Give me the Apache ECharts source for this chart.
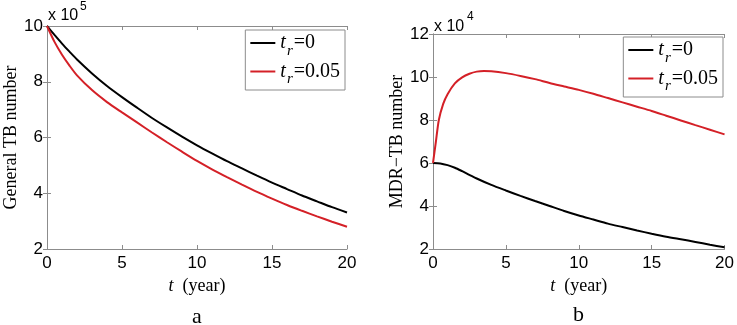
<!DOCTYPE html>
<html>
<head>
<meta charset="utf-8">
<script src="https://cdn.jsdelivr.net/npm/echarts@6/dist/echarts.min.js"></script>
<style>
  html, body { margin: 0; padding: 0; background: #fff; }
  #main { width: 737px; height: 325px; }
</style>
</head>
<body>
<div id="main"></div>
<script>
// 时间 (year)
var genT = [0, 0.5, 1, 1.5, 2, 3, 4, 5, 6, 7, 8, 9, 10, 11, 12, 13, 14, 15, 16, 17, 18, 19, 20];
// General TB number (x 10^5)
var genTr0 = [10, 9.68, 9.37, 9.08, 8.8, 8.3, 7.85, 7.45, 7.07, 6.7, 6.36, 6.03, 5.72, 5.43, 5.15, 4.89, 4.63, 4.38, 4.15, 3.92, 3.71, 3.5, 3.31];
var genTr005 = [10, 9.43, 8.97, 8.58, 8.23, 7.7, 7.27, 6.9, 6.54, 6.18, 5.83, 5.49, 5.16, 4.86, 4.58, 4.31, 4.05, 3.81, 3.58, 3.37, 3.17, 2.98, 2.8];

var mdrT0 = [0, 0.5, 1, 1.5, 2, 2.5, 3, 4, 5, 6, 7, 8, 9, 10, 11, 12, 13, 14, 15, 16, 17, 18, 19, 20];
// MDR-TB number (x 10^4)
var mdrTr0 = [6.0, 5.98, 5.9, 5.78, 5.62, 5.45, 5.28, 4.98, 4.72, 4.47, 4.23, 4.0, 3.77, 3.56, 3.37, 3.18, 3.02, 2.86, 2.71, 2.57, 2.45, 2.33, 2.2, 2.08];
var mdrT1 = [0, 0.2, 0.4, 0.7, 1, 1.5, 2, 2.5, 3, 3.5, 4, 5, 6, 7, 8, 9, 10, 11, 12, 13, 14, 15, 16, 17, 18, 19, 20];
var mdrTr005 = [6.0, 7.0, 8.0, 8.75, 9.2, 9.7, 9.98, 10.15, 10.25, 10.28, 10.27, 10.18, 10.05, 9.9, 9.72, 9.56, 9.4, 9.22, 9.02, 8.82, 8.62, 8.42, 8.2, 7.98, 7.76, 7.55, 7.33];

function pairs(xs, ys) {
    return xs.map(function (x, i) { return [x, ys[i]]; });
}

var boxColor = '#8c8c8c';
var sans = 'Liberation Sans';
var serif = 'Liberation Serif';

function xAxes(gridIndex) {
    return [{
        gridIndex: gridIndex,
        type: 'value',
        min: 0, max: 20, interval: 5,
        name: '{i|t}  (year)',
        nameLocation: 'middle',
        nameGap: 23,
        nameTextStyle: {
            fontFamily: serif, fontSize: 18, color: '#000',
            rich: { i: { fontFamily: serif, fontStyle: 'italic', fontSize: 18, color: '#000' } }
        },
        axisLine: { show: true, lineStyle: { color: boxColor, width: 1 } },
        axisTick: { show: true, inside: true, length: 4, lineStyle: { color: boxColor } },
        axisLabel: { fontFamily: sans, fontSize: 17, color: '#000', margin: 6 },
        splitLine: { show: false }
    }, {
        gridIndex: gridIndex,
        type: 'value',
        position: 'top',
        min: 0, max: 20, interval: 5,
        axisLine: { show: true, lineStyle: { color: boxColor, width: 1 } },
        axisTick: { show: true, inside: true, length: 4, lineStyle: { color: boxColor } },
        axisLabel: { show: false },
        splitLine: { show: false }
    }];
}

function yAxes(gridIndex, max, name) {
    return [{
        gridIndex: gridIndex,
        type: 'value',
        min: 2, max: max, interval: 2,
        name: name,
        nameLocation: 'middle',
        nameRotate: 90,
        nameGap: 22,
        nameTextStyle: { fontFamily: serif, fontSize: 18, color: '#000' },
        axisLine: { show: true, lineStyle: { color: boxColor, width: 1 } },
        axisTick: { show: true, inside: true, length: 4, lineStyle: { color: boxColor } },
        axisLabel: { fontFamily: sans, fontSize: 17, color: '#000', margin: 4 },
        splitLine: { show: false }
    }, {
        gridIndex: gridIndex,
        type: 'value',
        position: 'right',
        min: 2, max: max, interval: 2,
        axisLine: { show: true, lineStyle: { color: boxColor, width: 1 } },
        axisTick: { show: true, inside: true, length: 4, lineStyle: { color: boxColor } },
        axisLabel: { show: false },
        splitLine: { show: false }
    }];
}

var legendRich = {
    t: { fontFamily: serif, fontStyle: 'italic', fontSize: 20, color: '#000' },
    r: { fontFamily: serif, fontStyle: 'italic', fontSize: 15, color: '#000', padding: [16, 1, 0, 1] },
    v: { fontFamily: serif, fontSize: 20, color: '#000' }
};

function legendFmt(name) {
    return name === 'tr0' ? '{t|t}{r|r}{v|=0}' : '{t|t}{r|r}{v|=0.05}';
}

function legend(right, top) {
    return {
        orient: 'vertical',
        right: right,
        top: top,
        data: ['tr0', 'tr005'],
        icon: 'rect',
        itemWidth: 25,
        itemHeight: 2,
        itemGap: 3,
        padding: [3, 5, 3, 5],
        backgroundColor: '#fff',
        borderColor: boxColor,
        borderWidth: 1,
        borderRadius: 0,
        formatter: legendFmt,
        textStyle: { rich: legendRich }
    };
}

function lineSeries(name, xAxisIndex, yAxisIndex, data, color) {
    return {
        type: 'line',
        name: name,
        xAxisIndex: xAxisIndex,
        yAxisIndex: yAxisIndex,
        data: data,
        smooth: 0.25,
        showSymbol: false,
        symbol: 'none',
        animation: false,
        lineStyle: { color: color, width: 2 },
        itemStyle: { color: color }
    };
}

var chart = echarts.init(document.getElementById('main'));
var option = {
    backgroundColor: '#fff',
    animation: false,
    grid: [
        { left: 47, right: 390, top: 26, bottom: 76, containLabel: false },
        { left: 433, right: 12, top: 34, bottom: 76, containLabel: false }
    ],
    xAxis: xAxes(0).concat(xAxes(1)),
    yAxis: yAxes(0, 10, 'General TB number').concat(yAxes(1, 12, 'MDR\u2212TB number')),
    legend: [legend(392, 30), legend(14, 37)],
    series: [
        lineSeries('tr0', 0, 0, pairs(genT, genTr0), '#000000'),
        lineSeries('tr005', 0, 0, pairs(genT, genTr005), '#d42027'),
        lineSeries('tr0', 2, 2, pairs(mdrT0, mdrTr0), '#000000'),
        lineSeries('tr005', 2, 2, pairs(mdrT1, mdrTr005), '#d42027')
    ],
    graphic: [
        { type: 'text', left: 48, top: 8, style: { text: 'x 10', font: '16px "Liberation Sans"', fill: '#000' } },
        { type: 'text', left: 80, top: 1, style: { text: '5', font: '12px "Liberation Sans"', fill: '#000' } },
        { type: 'text', left: 434, top: 19, style: { text: 'x 10', font: '16px "Liberation Sans"', fill: '#000' } },
        { type: 'text', left: 467, top: 11, style: { text: '4', font: '12px "Liberation Sans"', fill: '#000' } },
        { type: 'text', left: 192, top: 306, style: { text: 'a', font: '22px "Liberation Serif"', fill: '#000' } },
        { type: 'text', left: 573, top: 304, style: { text: 'b', font: '22px "Liberation Serif"', fill: '#000' } }
    ]
};
chart.setOption(option);
</script>
</body>
</html>
